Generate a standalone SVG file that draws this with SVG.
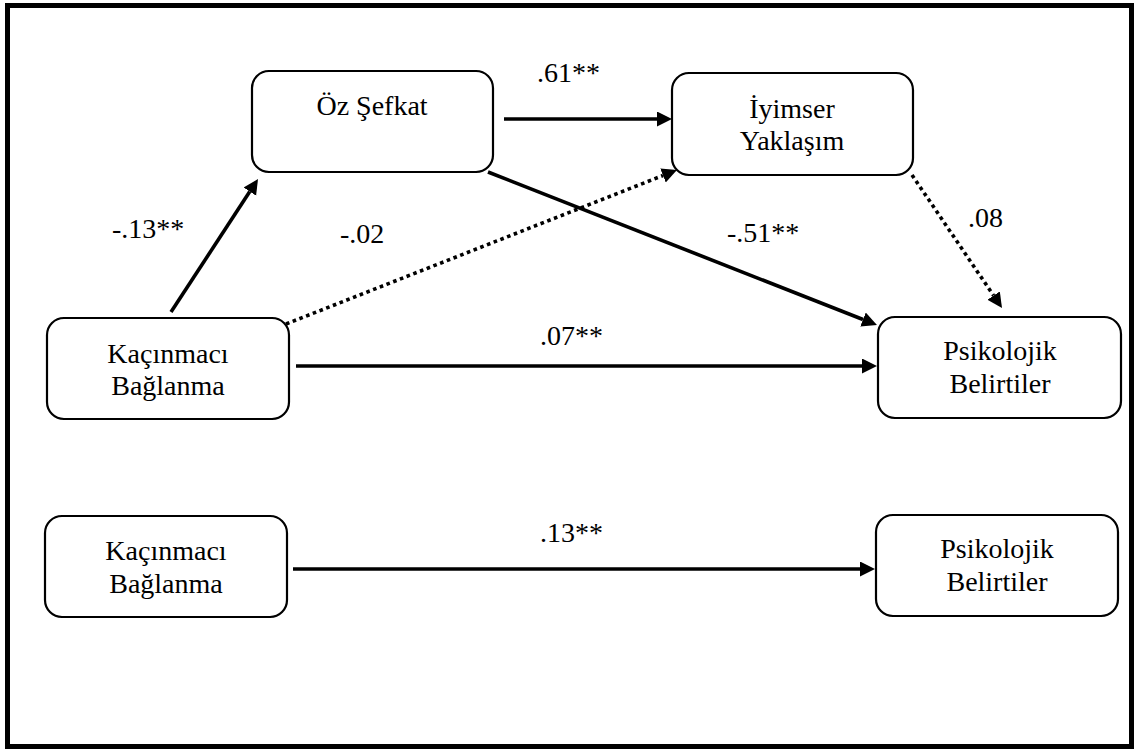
<svg xmlns="http://www.w3.org/2000/svg" width="1136" height="749" viewBox="0 0 1136 749">
  <style>
    .box { fill: #fff; stroke: #000; stroke-width: 2.2; }
    .solid { stroke: #000; stroke-width: 3.6; fill: none; }
    .dot { stroke: #000; stroke-width: 3.6; fill: none; stroke-dasharray: 3.6 3.6; }
    text { font-family: "Liberation Serif", "Times New Roman", serif; font-size: 28px; fill: #000; }
    .lbl { text-anchor: middle; }
  </style>
  <defs>
    <marker id="head" markerUnits="userSpaceOnUse" markerWidth="16" markerHeight="16" refX="0" refY="7.5" orient="auto">
      <path d="M0,0 L15,7.5 L0,15 z" fill="#000"/>
    </marker>
  </defs>

  <rect x="0" y="0" width="1136" height="749" fill="#fff"/>
  <!-- outer frame -->
  <rect x="7.5" y="5.5" width="1124" height="741" fill="none" stroke="#000" stroke-width="5"/>

  <!-- connectors and path coefficients -->
  <g id="connectors">
    <line class="solid" x1="171" y1="312" x2="249.8" y2="191.6" marker-end="url(#head)"/>
    <line class="solid" x1="504" y1="119" x2="657" y2="119" marker-end="url(#head)"/>
    <line class="solid" x1="488" y1="172" x2="863" y2="319.5" marker-end="url(#head)"/>
    <line class="dot" x1="286" y1="324" x2="663" y2="175.5" marker-end="url(#head)"/>
    <line class="dot" x1="912" y1="175" x2="993.6" y2="295.6" marker-end="url(#head)"/>
    <line class="solid" x1="296" y1="366" x2="862" y2="366" marker-end="url(#head)"/>
    <line class="solid" x1="293" y1="569" x2="860" y2="569" marker-end="url(#head)"/>

    <text x="537" y="82">.61**</text>
    <text x="112" y="238">-.13**</text>
    <text x="340" y="243">-.02</text>
    <text x="727" y="242">-.51**</text>
    <text x="968" y="227">.08</text>
    <text x="540" y="345">.07**</text>
    <text x="540" y="542">.13**</text>
  </g>

  <!-- nodes -->
  <g id="oz-sefkat">
    <rect class="box" x="252" y="71" width="241" height="101" rx="17"/>
    <text class="lbl" x="372" y="115">Öz Şefkat</text>
  </g>
  <g id="iyimser-yaklasim">
    <rect class="box" x="672" y="73" width="241" height="102" rx="17"/>
    <text class="lbl" x="792" y="118">İyimser</text>
    <text class="lbl" x="792" y="150">Yaklaşım</text>
  </g>
  <g id="kacinmaci-1">
    <rect class="box" x="47" y="318" width="242" height="101" rx="17"/>
    <text class="lbl" x="168" y="363">Kaçınmacı</text>
    <text class="lbl" x="168" y="395">Bağlanma</text>
  </g>
  <g id="psikolojik-1">
    <rect class="box" x="878" y="317" width="243" height="101" rx="17"/>
    <text class="lbl" x="1000" y="360">Psikolojik</text>
    <text class="lbl" x="1000" y="393">Belirtiler</text>
  </g>
  <g id="kacinmaci-2">
    <rect class="box" x="45" y="516" width="242" height="101" rx="17"/>
    <text class="lbl" x="166" y="560">Kaçınmacı</text>
    <text class="lbl" x="166" y="593">Bağlanma</text>
  </g>
  <g id="psikolojik-2">
    <rect class="box" x="876" y="515" width="242" height="101" rx="17"/>
    <text class="lbl" x="997" y="558">Psikolojik</text>
    <text class="lbl" x="997" y="591">Belirtiler</text>
  </g>
</svg>
